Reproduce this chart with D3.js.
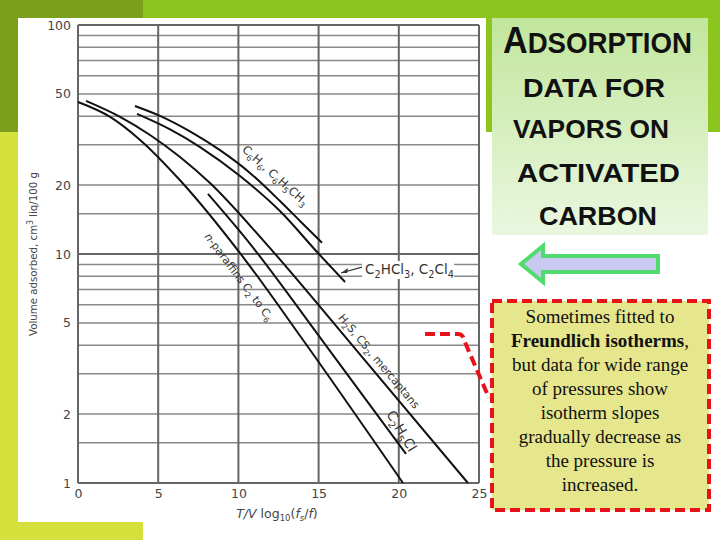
<!DOCTYPE html>
<html><head><meta charset="utf-8">
<script src="https://cdn.jsdelivr.net/npm/d3@7"></script>
<style>body{margin:0;background:#fff}svg{display:block}</style>
</head><body>
<svg id="c" width="720" height="540"></svg>
<script>
// ---- data ----
const xTicks = [0, 5, 10, 15, 20, 25];
const yTickLabels = [1, 2, 5, 10, 20, 50, 100];
const yGrid = [1, 1.5, 2, 3, 4, 5, 6, 7, 8, 9, 10, 15, 20, 30, 40, 50, 60, 70, 80, 90, 100];
const aromatics = [[3.55,44.3],[5.11,40.1],[6.98,34.3],[8.85,28.4],[10.72,22.6],[12.59,17.03],[13.84,13.94],[15.21,11.2]];
const chloroethylenes = [[3.68,40.9],[5.74,35.0],[7.61,29.3],[10.1,21.9],[12.59,15.4],[14.96,10.1],[16.65,7.55]];
const paraffins = [[0,46.1],[2.0,39.7],[3.87,31.5],[6.36,21.0],[10.29,9.7],[14.03,4.21],[20.26,1.0]];
const sulfur = [[0.5,46.6],[2.62,39.7],[4.49,33.1],[6.36,26.5],[8.23,20.4],[11.53,11.5],[16.83,4.21],[24.31,1.0]];
const ethylChloride = [[8.1,18.3],[10.54,11.5],[15.21,4.21],[20.45,1.34]];
const seriesList = [aromatics, chloroethylenes, paraffins, sulfur, ethylChloride];

const svg = d3.select("#c");
// ---- slide background ----
svg.append("rect").attr("x",0).attr("y",0).attr("width",720).attr("height",540).attr("fill","#fff");
svg.append("rect").attr("x",143).attr("y",0).attr("width",577).attr("height",18).attr("fill","#8dc51f");
svg.append("rect").attr("x",486).attr("y",0).attr("width",234).attr("height",132).attr("fill","#8dc51f");
svg.append("rect").attr("x",0).attr("y",0).attr("width",143).attr("height",132).attr("fill","#799f1b");
svg.append("rect").attr("x",0).attr("y",132).attr("width",18).attr("height",408).attr("fill","#d4e03b");
svg.append("rect").attr("x",0).attr("y",522).attr("width",143).attr("height",18).attr("fill","#d4e03b");
svg.append("rect").attr("x",18).attr("y",18).attr("width",468).attr("height",504).attr("fill","#fff");

// ---- chart ----
const x = d3.scaleLinear().domain([0,25]).range([78,479]);
const y = d3.scaleLog().domain([1,100]).range([483,25]);
const g = svg.append("g");
g.selectAll(".hg").data(yGrid).join("line")
  .attr("x1",x(0)).attr("x2",x(25)).attr("y1",d=>y(d)).attr("y2",d=>y(d))
  .attr("stroke",d=>[1,10,100].includes(d)?"#666":"#888").attr("stroke-width",d=>[1,10,100].includes(d)?2:1.5);
g.selectAll(".vg").data(xTicks).join("line")
  .attr("x1",d=>x(d)).attr("x2",d=>x(d)).attr("y1",y(1)).attr("y2",y(100))
  .attr("stroke","#666").attr("stroke-width",2);

const tickFont = "DejaVu Sans, sans-serif";
const ax = g.append("g").attr("transform",`translate(${x(0)},0)`)
  .call(d3.axisLeft(y).tickValues(yTickLabels).tickFormat(d3.format("d")).tickSize(0).tickPadding(7));
ax.select(".domain").remove();
ax.selectAll("text").attr("font-family",tickFont).attr("font-size",12.5).attr("fill","#444");
const bx = g.append("g").attr("transform",`translate(0,${y(1)})`)
  .call(d3.axisBottom(x).tickValues(xTicks).tickSize(0).tickPadding(6));
bx.select(".domain").remove();
bx.selectAll("text").attr("font-family",tickFont).attr("font-size",12.5).attr("fill","#444");

const lineGen = d3.line().x(d=>x(d[0])).y(d=>y(d[1])).curve(d3.curveMonotoneX);
g.selectAll(".curve").data(seriesList).join("path")
  .attr("d",lineGen).attr("fill","none").attr("stroke","#111").attr("stroke-width",2);

// helper for subscripted text
function rich(parent, parts, size){
  const t = parent.append("text").attr("font-family",tickFont).attr("font-size",size).attr("fill","#333");
  let sub=false;
  parts.forEach(p=>{
    const isSub = p.startsWith("_");
    const isIt = p.startsWith("*");
    const s = (isSub||isIt)?p.slice(1):p;
    const ts = t.append("tspan").text(s);
    if(isSub){ ts.attr("font-size",size*0.72).attr("dy", sub?0:size*0.28); sub=true; }
    else { if(sub){ ts.attr("dy",-size*0.28); sub=false; } }
    if(isIt) ts.attr("font-style","italic");
  });
  return t;
}
function rotLabel(pos, angle, parts, size){
  const gg = g.append("g").attr("transform",`translate(${x(pos[0])},${y(pos[1])}) rotate(${angle})`);
  return rich(gg, parts, size);
}
rotLabel([10.2,28.3], 42, ["C","_6","H","_6",", C","_6","H","_5","CH","_3"], 11.5);
rotLabel([7.86,11.9], 53, ["*n","-paraffins C","_2"," to C","_6"], 11);
rotLabel([16.2,5.25], 50, ["H","_2","S, CS","_2",", mercaptans"], 11);
rotLabel([19.2,2.0], 59, ["C","_2","H","_5","Cl"], 13.5);

const hl = [17.9, 8.18];
g.append("rect").attr("x",x(hl[0])-3).attr("y",y(hl[1])-13).attr("width",92).attr("height",18).attr("fill","#fff");
rich(g.append("g").attr("transform",`translate(${x(hl[0])},${y(hl[1])})`), ["C","_2","HCl","_3",", C","_2","Cl","_4"], 13.5);
const lead = [[17.7,8.77],[16.4,8.26]];
g.append("line").attr("x1",x(lead[0][0])).attr("y1",y(lead[0][1])).attr("x2",x(lead[1][0])).attr("y2",y(lead[1][1]))
  .attr("stroke","#333").attr("stroke-width",1.2);
{
  const tx=x(lead[1][0]), ty=y(lead[1][1]);
  g.append("path").attr("d",`M${tx},${ty} l7,-5 l-1,5 z`).attr("fill","#333");
}

// axis titles
const yt = svg.append("text").attr("transform","translate(37,254) rotate(-90)")
  .attr("text-anchor","middle").attr("font-family",tickFont).attr("font-size",11).attr("fill","#444")
  .attr("textLength",164).attr("lengthAdjust","spacingAndGlyphs");
yt.append("tspan").text("Volume adsorbed, cm");
yt.append("tspan").text("3").attr("font-size",8).attr("dy",-4);
yt.append("tspan").text(" liq/100 g").attr("dy",4);

const xt = svg.append("text").attr("x",277).attr("y",518).attr("text-anchor","middle")
  .attr("font-family",tickFont).attr("font-size",12.5).attr("fill","#444");
xt.append("tspan").text("T/V").attr("font-style","italic");
xt.append("tspan").text("  log");
xt.append("tspan").text("10").attr("font-size",8.5).attr("dy",3);
xt.append("tspan").text("(").attr("dy",-3);
xt.append("tspan").text("f").attr("font-style","italic");
xt.append("tspan").text("s").attr("font-size",8.5).attr("dy",3).attr("font-style","italic");
xt.append("tspan").text("/").attr("dy",-3);
xt.append("tspan").text("f").attr("font-style","italic");
xt.append("tspan").text(")");

// ---- title box ----
const defs = svg.append("defs");
const grad = defs.append("linearGradient").attr("id","tg").attr("x1",0).attr("y1",0).attr("x2",0).attr("y2",1);
grad.append("stop").attr("offset","0%").attr("stop-color","#c2e69c");
grad.append("stop").attr("offset","100%").attr("stop-color","#eaf7e0");
svg.append("rect").attr("x",492).attr("y",18).attr("width",216).attr("height",217).attr("fill","url(#tg)");
const titleFont = "Liberation Sans, Arial, sans-serif";
const t1 = svg.append("text").attr("x",503).attr("y",53).attr("font-family",titleFont).attr("font-weight","bold")
  .attr("fill","#111").attr("textLength",189).attr("lengthAdjust","spacingAndGlyphs");
t1.append("tspan").text("A").attr("font-size",37);
t1.append("tspan").text("DSORPTION").attr("font-size",30);
const titleLines = [["DATA FOR",523,97,142],["VAPORS ON",513,138,156],["ACTIVATED",517,182,163],["CARBON",539,225,118]];
titleLines.forEach(([s,xx,yy,w])=>{
  svg.append("text").attr("x",xx).attr("y",yy).attr("font-family",titleFont).attr("font-weight","bold")
    .attr("font-size",25.5).attr("fill","#111").attr("textLength",w).attr("lengthAdjust","spacingAndGlyphs").text(s);
});

// ---- arrow ----
svg.append("path").attr("d","M521,264 L543,246 L543,256 L658,256 L658,272 L543,272 L543,282 Z")
  .attr("fill","#c9c9f2").attr("stroke","#4fdc6c").attr("stroke-width",4).attr("stroke-linejoin","miter");

// ---- callout ----
svg.append("path").attr("d","M425,334 L458,334 Q463,334 464,340 L489,398")
  .attr("fill","none").attr("stroke","#e8121a").attr("stroke-width",4).attr("stroke-dasharray","10,5");
svg.append("rect").attr("x",492).attr("y",301).attr("width",217).attr("height",209)
  .attr("fill","#e6e68d").attr("stroke","#e8121a").attr("stroke-width",4).attr("stroke-dasharray","10,5");
const cl = ["Sometimes fitted to", null, "but data for wide range", "of pressures show", "isotherm slopes", "gradually decrease as", "the pressure is", "increased."];
cl.forEach((s,i)=>{
  const t = svg.append("text").attr("x",600).attr("y",323+24*i).attr("text-anchor","middle")
    .attr("font-family","Liberation Serif, Times New Roman, serif").attr("font-size",19).attr("fill","#111");
  if(s===null){ t.append("tspan").text("Freundlich isotherms").attr("font-weight","bold"); t.append("tspan").text(","); }
  else t.text(s);
});
</script>
</body></html>
